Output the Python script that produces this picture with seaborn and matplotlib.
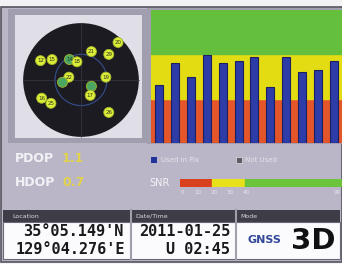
import numpy as np
import pandas as pd
import matplotlib
matplotlib.use("Agg")
import matplotlib.pyplot as plt
from matplotlib.patches import Rectangle, Circle
import seaborn as sns

# SNR bars (dB-Hz), one per tracked satellite
prn = ["12", "15", "14", "18", "22", "21", "29", "20", "19", "17", "16", "25"]
snr = [26.2, 36.1, 29.8, 39.7, 36.1, 37.0, 38.8, 25.3, 38.8, 32.0, 32.9, 37.0]

# SNR colour bands
band_lo = [0, 20, 40]
band_hi = [20, 40, 60]
band_col = ["#e4562a", "#e4dc12", "#64bf3c"]

# sky plot: east / north offsets on unit horizon circle
sat_name = ["20", "21", "29", "12", "15", "14", "18", "22", "", "19", "", "17", "16", "25", "26"]
sat_e = [0.64, 0.18, 0.48, -0.70, -0.50, -0.20, -0.07, -0.21, -0.32, 0.43, 0.18, 0.16, -0.68, -0.52, 0.48]
sat_n = [0.66, 0.50, 0.45, 0.34, 0.36, 0.36, 0.32, 0.05, -0.04, 0.05, -0.11, -0.27, -0.32, -0.41, -0.57]
sat_state = ["fix", "fix", "fix", "fix", "fix", "other", "fix", "fix", "other", "fix", "other",
             "fix", "fix", "fix", "fix"]

pdop, hdop = "1.1", "0.7"
snr_ticks = ["0", "10", "20", "30", "40", "99"]
lat, lon = "35°05.149'N", "129°04.276'E"
date, time = "2011-01-25", "U 02:45"

W, H = 342, 264
fig = plt.figure(figsize=(W / 100, H / 100), dpi=100, facecolor="#f2f2f4")


def px_axes(x0, y0, x1, y1):
    return fig.add_axes([x0 / W, 1 - y1 / H, (x1 - x0) / W, (y1 - y0) / H])


bg = px_axes(0, 0, W, H)
bg.set_xlim(0, W)
bg.set_ylim(H, 0)
bg.axis("off")

# screen + panels
bg.add_patch(Rectangle((1, 7), 341, 255, fc="#bbb6c7", ec="#55535e", lw=1.2))
bg.add_patch(Rectangle((8, 9), 140, 134, fc="#a19eb0", ec="none"))
bg.add_patch(Rectangle((15, 15), 127, 123, fc="#e0dfe8", ec="none"))
bg.add_patch(Rectangle((147, 8), 195, 136, fc="#a19eb0", ec="none"))

# sky plot
sky = px_axes(22, 22, 140, 138)
sky.set_xlim(-1.02, 1.02)
sky.set_ylim(-1.02, 1.02)
sky.axis("off")
sky.add_patch(Circle((0, 0), 1.0, fc="#1d1b22", ec="none"))
sky.add_patch(Circle((0, 0), 0.45, fc="none", ec="#34508e", lw=0.8))
sky.plot([-1, 1], [0, 0], color="#3a3944", lw=0.5)
sky.plot([0, 0], [-1, 1], color="#3a3944", lw=0.5)
sky_df = pd.DataFrame({"e": sat_e, "n": sat_n, "state": sat_state})
sns.scatterplot(data=sky_df, x="e", y="n", hue="state",
                palette={"fix": "#dcee3a", "other": "#4aa660"},
                s=52, edgecolor="#a6b82a", linewidth=0.6, legend=False, ax=sky, zorder=3)
for name, e, n in zip(sat_name, sat_e, sat_n):
    sky.text(e, n, name, fontsize=4, ha="center", va="center", color="#2c3018", zorder=4)
sky.set_xlabel("")
sky.set_ylabel("")

# SNR bar chart
ax = px_axes(151, 10, 342, 143)
for lo, hi, c in zip(band_lo, band_hi, band_col):
    ax.axhspan(lo, hi, color=c, zorder=0)
bar_df = pd.DataFrame({"prn": prn, "snr": snr})
sns.barplot(data=bar_df, x="prn", y="snr", color="#2d3ca6", width=0.5,
            edgecolor="#1a2060", linewidth=0.8, saturation=1, ax=ax, zorder=2)
ax.set_ylim(0, 60)
ax.set_xlim(-0.5, 11.5)
ax.set_xticks([])
ax.set_yticks([])
ax.set_xlabel("")
ax.set_ylabel("")
for s in ax.spines.values():
    s.set_visible(False)

# DOP values
bg.text(15, 158, "PDOP", fontsize=9, color="#f2f2f6", va="center", fontweight="bold")
bg.text(62, 158, pdop, fontsize=9, color="#e2d24a", va="center", fontweight="bold")
bg.text(15, 183, "HDOP", fontsize=9, color="#f2f2f6", va="center", fontweight="bold")
bg.text(62, 183, hdop, fontsize=9, color="#e2d24a", va="center", fontweight="bold")

# legend
bg.add_patch(Rectangle((151, 157), 6, 6, fc="#22349a", ec="none"))
bg.text(161, 160, "Used in Fix", fontsize=5, color="#e4e2ea", va="center")
bg.add_patch(Rectangle((236, 157), 6, 6, fc="#5e5c68", ec="#e0e0e0", lw=0.5))
bg.text(245, 160, "Not Used", fontsize=5, color="#e4e2ea", va="center")

# SNR scale
bg.text(149, 183, "SNR", fontsize=7, color="#f2f2f6", va="center")
scale = px_axes(180, 179, 342, 187)
scale.set_xlim(0, 100)
scale.set_ylim(0, 1)
scale.axis("off")
scale.axvspan(0, 20, color="#d8401e")
scale.axvspan(20, 40, color="#e8e018")
scale.axvspan(40, 100, color="#6cc43c")
for i, t in enumerate(snr_ticks):
    x = 182 + 16 * i if i < 5 else 337
    bg.text(x, 193, t, fontsize=4, color="#e6e4ec", ha="center", va="center")

# bottom status panel
bg.add_patch(Rectangle((3, 210), 337, 12, fc="#3e3c46", ec="none"))
bg.add_patch(Rectangle((3, 222), 337, 37, fc="#fbfbfd", ec="#6a6874", lw=0.8))
for x in [131, 236]:
    bg.plot([x, x], [210, 259], color="#a09eaa", lw=1.5)
bg.text(12, 216, "Location", fontsize=4.5, color="#d8d6de", va="center")
bg.text(135, 216, "Date/Time", fontsize=4.5, color="#d8d6de", va="center")
bg.text(240, 216, "Mode", fontsize=4.5, color="#d8d6de", va="center")

mono = dict(family="DejaVu Sans Mono", fontweight="bold", fontsize=11, color="#1a1a1e", va="center", ha="right")
bg.text(124, 232, lat, **mono)
bg.text(125, 249, lon, **mono)
bg.text(230, 232, date, **mono)
bg.text(230, 249, time, **mono)
bg.text(247, 240, "GNSS", fontsize=8, color="#34489a", va="center", fontweight="bold")
bg.text(313, 241, "3D", fontsize=21, color="#111114", va="center", ha="center", fontweight="bold",
        family=["Liberation Sans Narrow", "DejaVu Sans"])

fig.savefig("out.png", dpi=100, facecolor=fig.get_facecolor())
